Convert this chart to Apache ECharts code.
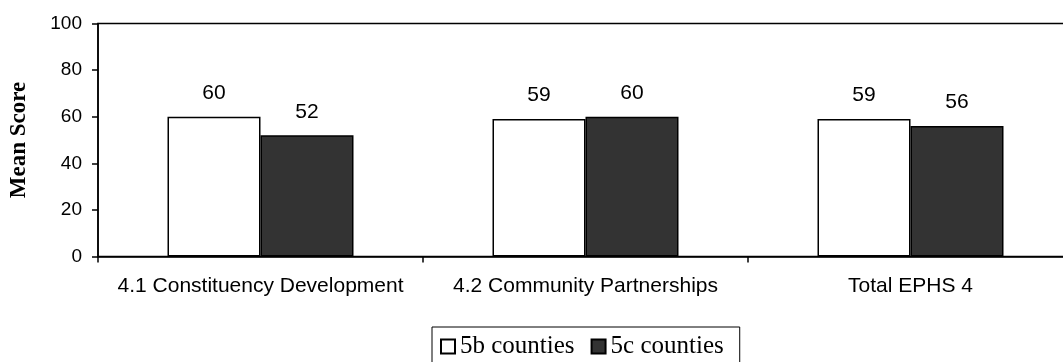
<!DOCTYPE html>
<html>
<head>
<meta charset="utf-8">
<script src="https://cdn.jsdelivr.net/npm/echarts@6/dist/echarts.min.js"></script>
<style>
  html, body { margin: 0; padding: 0; background: #fff; }
  #chart { width: 1063px; height: 362px; }
</style>
</head>
<body>
<div id="chart"></div>
<script>
// Mean EPHS 4 scores by county group
const categories = ['4.1 Constituency Development', '4.2 Community Partnerships', 'Total EPHS 4'];
const counties5b = [60, 59, 59];
const counties5c = [52, 60, 56];
const yTicks = [0, 20, 40, 60, 80, 100];

const sans = 'Arial, "Liberation Sans", sans-serif';
const serif = '"Times New Roman", "Liberation Serif", serif';

const chart = echarts.init(document.getElementById('chart'), null, { renderer: 'canvas' });

const valueLabel = {
  show: true,
  position: 'top',
  distance: 13,
  color: '#000',
  fontFamily: sans,
  fontSize: 21
};

chart.setOption({
  animation: false,
  backgroundColor: '#fff',
  grid: {
    left: 98,
    right: -10,
    top: 23.5,
    bottom: 105.5,
    outerBoundsMode: 'none',
    containLabel: false,
    show: true,
    borderColor: '#000',
    borderWidth: 1.5,
    backgroundColor: 'transparent'
  },
  legend: {
    data: ['5b counties', '5c counties'],
    left: 432,
    top: 327,
    icon: 'rect',
    itemWidth: 14,
    itemHeight: 14,
    itemGap: 16,
    padding: [7, 16, 12, 8],
    borderColor: '#000',
    borderWidth: 1,
    textStyle: { fontFamily: serif, fontSize: 25, color: '#000' },
    itemStyle: { borderColor: '#000', borderWidth: 2 }
  },
  xAxis: {
    type: 'category',
    data: categories,
    axisLine: { lineStyle: { color: '#000', width: 1.5 } },
    axisTick: { show: true, length: 6, lineStyle: { color: '#000', width: 1.5 } },
    axisLabel: { color: '#000', fontFamily: sans, fontSize: 21, margin: 19, interval: 0 }
  },
  yAxis: {
    type: 'value',
    min: yTicks[0],
    max: yTicks[yTicks.length - 1],
    interval: yTicks[1] - yTicks[0],
    name: 'Mean Score',
    nameLocation: 'middle',
    nameRotate: 90,
    nameGap: 67,
    nameTextStyle: { fontFamily: serif, fontWeight: 'bold', fontSize: 23, color: '#000' },
    axisLine: { show: true, lineStyle: { color: '#000', width: 1.5 } },
    axisTick: { show: true, length: 6, lineStyle: { color: '#000', width: 1.5 } },
    axisLabel: { color: '#000', fontFamily: sans, fontSize: 19, margin: 16 },
    splitLine: { show: false }
  },
  series: [
    {
      name: '5b counties',
      type: 'bar',
      data: counties5b,
      barWidth: 93,
      barGap: '0%',
      itemStyle: { color: '#ffffff', borderColor: '#000', borderWidth: 1.5 },
      label: valueLabel
    },
    {
      name: '5c counties',
      type: 'bar',
      data: counties5c,
      barWidth: 93,
      itemStyle: { color: '#333333', borderColor: '#000', borderWidth: 1.5 },
      label: valueLabel
    }
  ]
});
</script>
</body>
</html>
